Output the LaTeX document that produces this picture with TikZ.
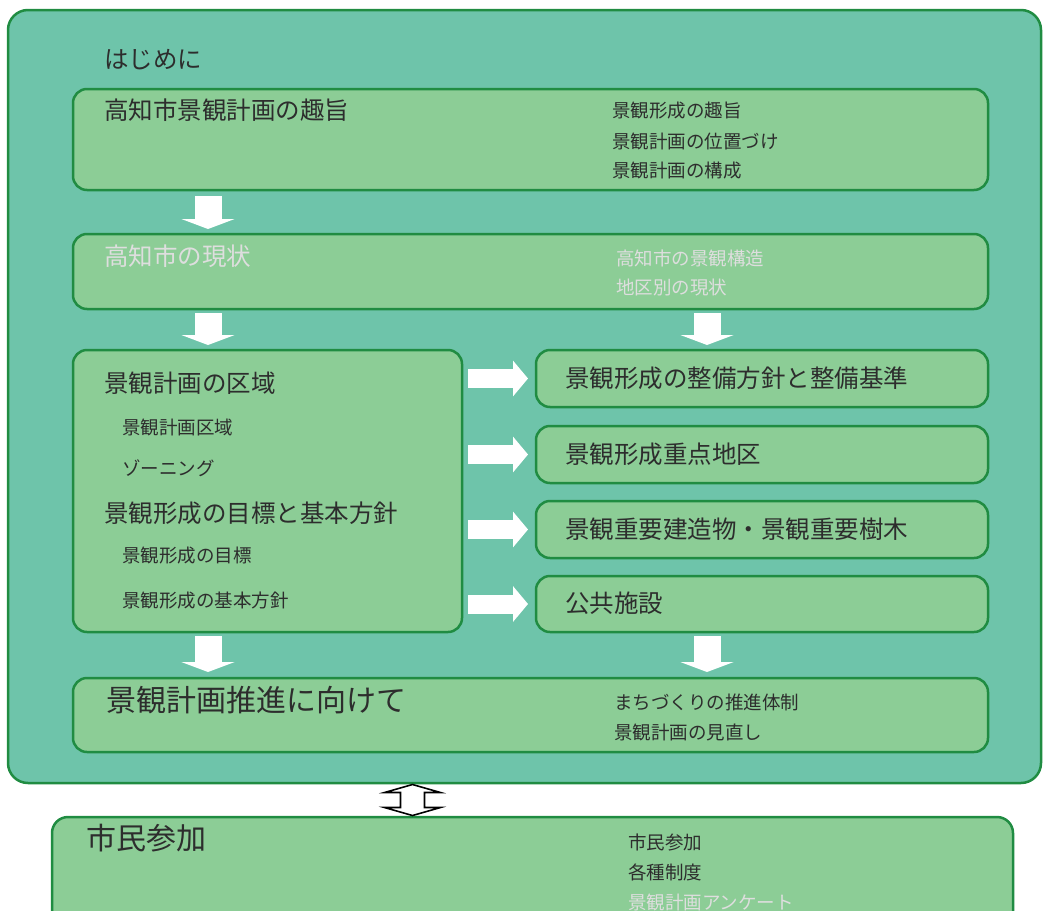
\documentclass[tikz,border=0pt]{standalone}
\usepackage{fontspec}
\setmainfont{Noto Sans CJK JP}
\usetikzlibrary{arrows.meta,calc}

\definecolor{outerfill}{RGB}{110,196,170}
\definecolor{boxfill}{RGB}{140,205,150}
\definecolor{framegreen}{RGB}{32,140,66}
\definecolor{textdark}{RGB}{45,45,45}
\definecolor{textlight}{RGB}{222,222,222}

\tikzset{
    panel/.style={draw=framegreen, line width=2.5pt, fill=boxfill, rounded corners=14pt, inner sep=0pt, outer sep=0pt},
    title/.style={anchor=west, inner sep=0pt, text=textdark, font=\fontsize{24.5}{24.5}\selectfont},
    bigtitle/.style={title, font=\fontsize{30}{30}\selectfont},
    item/.style={anchor=west, inner sep=0pt, text=textdark, font=\fontsize{18.5}{18.5}\selectfont},
    faint/.style={text=textlight},
    downarrow/.style={white, line width=27pt, -{Triangle[width=53pt,length=10pt]}},
    rightarrow/.style={white, line width=19pt, -{Triangle[width=35pt,length=15pt]}}
}

\begin{document}
\begin{tikzpicture}[x=1pt, y=-1pt]
    \useasboundingbox (0,0) rectangle (1043,910);
    \clip (0,0) rectangle (1043,910);

    % Frames
    \node[panel, fill=outerfill, rounded corners=20pt, minimum width=1033, minimum height=773] (outer) at (524.5,396.5) {};
    \node[panel, minimum width=915, minimum height=101] (purpose) at (530.5,139.5) {};
    \node[panel, minimum width=915, minimum height=75] (present) at (530.5,271.5) {};
    \node[panel, minimum width=389, minimum height=282] (area) at (267.5,491) {};
    \node[panel, minimum width=452, minimum height=57] (policy) at (762,378.5) {};
    \node[panel, minimum width=452, minimum height=57] (district) at (762,454.5) {};
    \node[panel, minimum width=452, minimum height=57] (heritage) at (762,529.5) {};
    \node[panel, minimum width=452, minimum height=56] (public) at (762,604) {};
    \node[panel, minimum width=915, minimum height=74] (promote) at (530.5,715) {};
    \node[panel, rounded corners=16pt, minimum width=961, minimum height=130] (civic) at (532.5,882) {};

    % Headings
    \node[title] (intro) at (104,60) {はじめに};
    \node[title] (purposeT) at (104,110) {高知市景観計画の趣旨};
    \node[title, faint] (presentT) at (104,256) {高知市の現状};
    \node[title] (areaT) at (104,383) {景観計画の区域};
    \node[title] (goalT) at (104,513) {景観形成の目標と基本方針};
    \node[title] (policyT) at (565,378) {景観形成の整備方針と整備基準};
    \node[title] (districtT) at (565,454) {景観形成重点地区};
    \node[title] (heritageT) at (565,529) {景観重要建造物・景観重要樹木};
    \node[title] (publicT) at (565,603) {公共施設};
    \node[bigtitle] (promoteT) at (106,700) {景観計画推進に向けて};
    \node[bigtitle] (civicT) at (86,838) {市民参加};

    % Items
    \node[item] (p1) at (612,111) {景観形成の趣旨};
    \node[item] (p2) at (612,141) {景観計画の位置づけ};
    \node[item] (p3) at (612,171) {景観計画の構成};
    \node[item, faint] (s1) at (616,258) {高知市の景観構造};
    \node[item, faint] (s2) at (616,288) {地区別の現状};
    \node[item] (a1) at (122,427) {景観計画区域};
    \node[item] (a2) at (122,468) {ゾーニング};
    \node[item] (g1) at (122,556) {景観形成の目標};
    \node[item] (g2) at (122,600) {景観形成の基本方針};
    \node[item] (m1) at (614,702) {まちづくりの推進体制};
    \node[item] (m2) at (614,732) {景観計画の見直し};
    \node[item] (c1) at (628,842) {市民参加};
    \node[item] (c2) at (628,872) {各種制度};
    \node[item, faint] (c3) at (628,902) {景観計画アンケート};

    % Flow
    \draw[downarrow, shorten <=6pt, shorten >=5pt] ([xshift=135]purpose.south west) -- ([xshift=135]present.north west);
    \draw[downarrow, shorten <=4pt, shorten >=5pt] ([xshift=135]present.south west) -- ([xshift=135]area.north west);
    \draw[downarrow, shorten <=4pt, shorten >=5pt] ([xshift=-281]present.south east) -- ([xshift=171]policy.north west);
    \draw[rightarrow, shorten <=6pt, shorten >=8pt] (area.east |- policy.west) -- (policy.west);
    \draw[rightarrow, shorten <=6pt, shorten >=8pt] (area.east |- district.west) -- (district.west);
    \draw[rightarrow, shorten <=6pt, shorten >=8pt] (area.east |- heritage.west) -- (heritage.west);
    \draw[rightarrow, shorten <=6pt, shorten >=8pt] (area.east |- public.west) -- (public.west);
    \draw[downarrow, shorten <=4pt, shorten >=6pt] ([xshift=135]area.south west) -- ([xshift=135]promote.north west);
    \draw[downarrow, shorten <=4pt, shorten >=6pt] ([xshift=171]public.south west) -- ([xshift=171]public.south west |- promote.north);

    % Link to citizens
    \coordinate (linkTop) at ([xshift=404.5,yshift=-1.5]outer.south west);
    \coordinate (linkBot) at ([xshift=404.5,yshift=1.5]outer.south west |- civic.north);
    \draw[line width=1.6pt, fill=white, line join=miter]
        (linkTop) -- ($(linkTop)+(28,8)$) -- ($(linkTop)+(12,8)$)
        -- ($(linkBot)+(12,-8)$) -- ($(linkBot)+(28,-8)$) -- (linkBot)
        -- ($(linkBot)+(-28,-8)$) -- ($(linkBot)+(-12,-8)$)
        -- ($(linkTop)+(-12,8)$) -- ($(linkTop)+(-28,8)$) -- cycle;
\end{tikzpicture}
\end{document}
